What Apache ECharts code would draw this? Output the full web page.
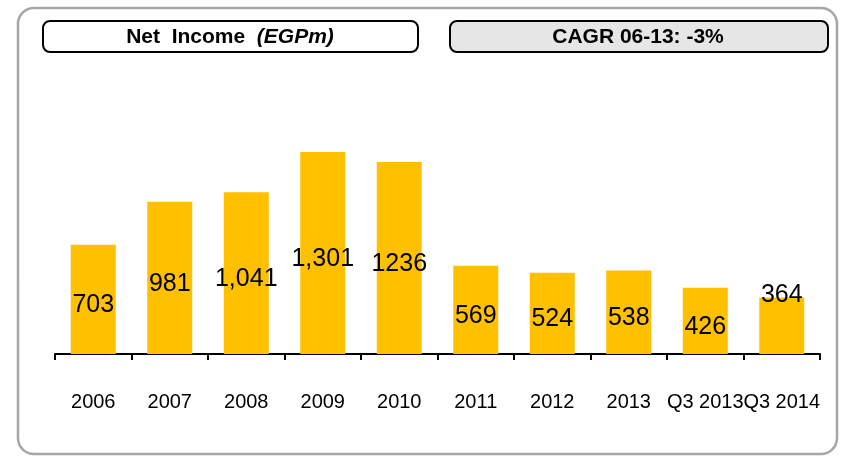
<!DOCTYPE html>
<html>
<head>
<meta charset="utf-8">
<script src="https://cdn.jsdelivr.net/npm/echarts@6/dist/echarts.min.js"></script>
<style>
  html, body { margin: 0; padding: 0; background: #fff; }
  #chart { width: 842px; height: 458px; }
</style>
</head>
<body>
<div id="chart"></div>
<script>
const categories = ["2006", "2007", "2008", "2009", "2010", "2011", "2012", "2013", "Q3 2013", "Q3 2014"];
const netIncome = [703, 981, 1041, 1301, 1236, 569, 524, 538, 426, 364];
const valueLabels = ["703", "981", "1,041", "1,301", "1236", "569", "524", "538", "426", "364"];
const titleLeft = "Net  Income  ";
const titleUnit = "(EGPm)";
const titleRight = "CAGR 06-13: -3%";

const barColor = "#FFC000";
const fontFamily = "Liberation Sans, Arial, sans-serif";

const chart = echarts.init(document.getElementById("chart"));

const seriesData = netIncome.map((v, i) => {
    const item = { value: v };
    // the last bar is short, its label sits on the top edge
    if (i === netIncome.length - 1) {
        item.label = { position: "insideTop", offset: [0, -20] };
    }
    return item;
});

const option = {
    animation: false,
    grid: { left: 55, right: 22, top: 59, bottom: 104 },
    xAxis: {
        type: "category",
        data: categories,
        axisLine: { lineStyle: { color: "#000", width: 2 } },
        axisTick: { show: true, length: 6, lineStyle: { color: "#000", width: 2 } },
        axisLabel: {
            interval: 0,
            hideOverlap: false,
            margin: 38,
            color: "#000",
            fontSize: 20,
            fontFamily: fontFamily,
        },
    },
    yAxis: {
        type: "value",
        min: 0,
        max: 1900,
        show: false,
        splitLine: { show: false },
    },
    series: [
        {
            type: "bar",
            data: seriesData,
            barWidth: 45,
            itemStyle: { color: barColor },
            label: {
                show: true,
                position: "inside",
                offset: [0, 6],
                color: "#000",
                fontSize: 25,
                fontFamily: fontFamily,
                formatter: (p) => valueLabels[p.dataIndex],
            },
        },
    ],
    graphic: [
        {
            type: "rect",
            shape: { x: 18, y: 8, width: 819, height: 446, r: 16 },
            style: { fill: "none", stroke: "#a6a6a6", lineWidth: 2.5 },
            z: -1,
        },
        {
            type: "rect",
            shape: { x: 43, y: 21, width: 375, height: 31, r: 7 },
            style: { fill: "#fff", stroke: "#000", lineWidth: 2 },
        },
        {
            type: "text",
            x: 230,
            y: 37,
            style: {
                text: "{a|" + titleLeft + "}{b|" + titleUnit + "}",
                align: "center",
                verticalAlign: "middle",
                rich: {
                    a: { fontSize: 21, fontWeight: "bold", fontFamily: fontFamily, fill: "#000" },
                    b: { fontSize: 21, fontWeight: "bold", fontStyle: "italic", fontFamily: fontFamily, fill: "#000" },
                },
            },
        },
        {
            type: "rect",
            shape: { x: 450, y: 21, width: 378, height: 31, r: 7 },
            style: { fill: "#e6e6e6", stroke: "#000", lineWidth: 2 },
        },
        {
            type: "text",
            x: 638,
            y: 37,
            style: {
                text: titleRight,
                align: "center",
                verticalAlign: "middle",
                fontSize: 21,
                fontWeight: "bold",
                fontFamily: fontFamily,
                fill: "#000",
            },
        },
    ],
};

chart.setOption(option);
</script>
</body>
</html>
